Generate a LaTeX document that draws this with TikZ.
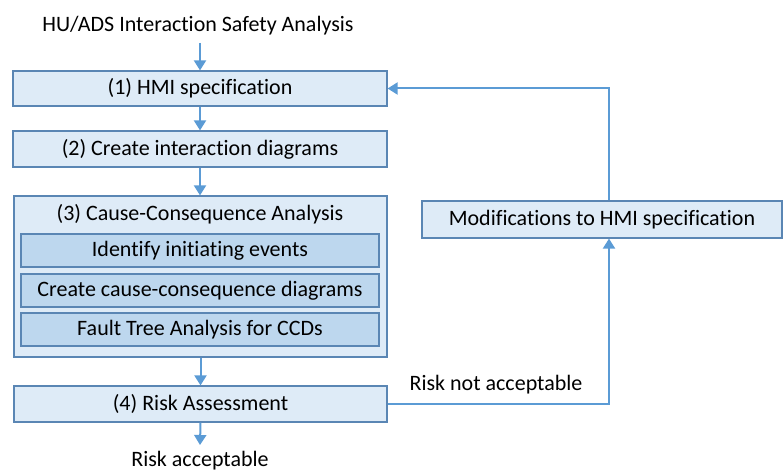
\documentclass[tikz,border=0pt]{standalone}
\usepackage{fontspec}
\setmainfont{Carlito}[Ligatures={NoCommon}]
\usetikzlibrary{arrows.meta}
\definecolor{boxfill}{HTML}{DEEBF7}
\definecolor{innerfill}{HTML}{BDD7EE}
\definecolor{boxline}{HTML}{5A86B4}
\definecolor{arrowc}{HTML}{5B9BD5}
\begin{document}
\begin{tikzpicture}[x=1pt,y=1pt,
  txt/.style={font=\fontsize{22}{24}\selectfont},
  stepbox/.style={txt, draw=boxline, line width=1.2pt, fill=boxfill, minimum width=374pt, minimum height=35pt, inner sep=0pt},
  innerbox/.style={txt, draw=boxline, line width=1.2pt, fill=innerfill, minimum width=358pt, minimum height=33pt, inner sep=0pt},
  plain/.style={txt, inner sep=0pt},
  flow/.style={draw=arrowc, line width=2pt, -{Triangle[length=10pt,width=12pt]}}]
\useasboundingbox (0,0) rectangle (783,472);
\node[plain] (title) at (198,446) {HU/ADS Interaction Safety Analysis};
\node[stepbox] (b1) at (200,383.5) {(1) HMI specification};
\node[stepbox, minimum height=36pt] (b2) at (200,323) {(2) Create interaction diagrams};
\node[stepbox, minimum width=373pt, minimum height=161pt] (b3) at (200.5,195.5) {};
\node[plain] (b3t) at (200,258) {(3) Cause-Consequence Analysis};
\node[innerbox] (i1) at (200,221.5) {Identify initiating events};
\node[innerbox] (i2) at (200,181.5) {Create cause-consequence diagrams};
\node[innerbox] (i3) at (200,142.5) {Fault Tree Analysis for CCDs};
\node[stepbox, minimum width=373pt, minimum height=36pt] (b4) at (200.5,68) {(4) Risk Assessment};
\node[stepbox, minimum width=360pt, minimum height=37pt] (mod) at (602,252.5) {Modifications to HMI specification};
\node[plain, anchor=base] (ra) at (200,6) {Risk acceptable};
\node[plain] (rna) at (496,87) {Risk not acceptable};
\coordinate (fx) at (609,0);
\coordinate (tend) at (200,429);
\coordinate (raend) at (200,27);
\draw[flow] (tend) -- (b1.north);
\draw[flow] (b1.south) -- (b2.north);
\draw[flow] (b2.south) -- (b3.north -| b2.south);
\draw[flow] (b3.south -| b4.north) -- (b4.north);
\draw[flow] (b4.south) -- (raend);
\draw[flow] (mod.north -| fx) |- (b1.east);
\draw[flow] (b4.east) -| (mod.south -| fx);
\end{tikzpicture}
\end{document}
